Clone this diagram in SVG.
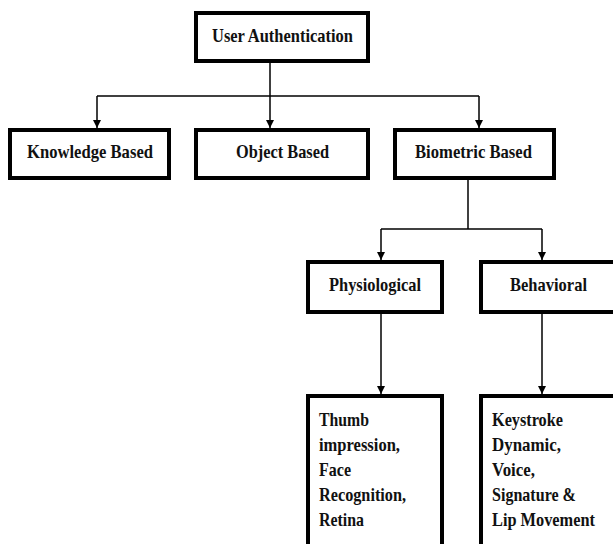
<svg xmlns="http://www.w3.org/2000/svg" width="613" height="544" viewBox="0 0 613 544">
<style>
.box{fill:#fff;stroke:#000;stroke-width:4}
.t{font-family:"Liberation Serif","Times New Roman",serif;font-weight:bold;font-size:19px;fill:#111}
.c{fill:none;stroke:#000;stroke-width:1.5}
</style>
<defs>
<marker id="ah" markerUnits="userSpaceOnUse" markerWidth="8" markerHeight="10" refX="8" refY="4" orient="auto" viewBox="0 0 8 8">
<path d="M0,0 L8,4 L0,8 Z" fill="#000"/>
</marker>
</defs>
<rect width="613" height="544" fill="#fff"/>
<g id="connectors">
<path class="c" d="M270,63 V96"/>
<path class="c" d="M97,96 H479"/>
<path class="c" d="M97,96 V128" marker-end="url(#ah)"/>
<path class="c" d="M270,96 V128" marker-end="url(#ah)"/>
<path class="c" d="M479,96 V128" marker-end="url(#ah)"/>
<path class="c" d="M468,180 V229"/>
<path class="c" d="M381,229 H542"/>
<path class="c" d="M381,229 V260" marker-end="url(#ah)"/>
<path class="c" d="M542,229 V260" marker-end="url(#ah)"/>
<path class="c" d="M381,314 V394" marker-end="url(#ah)"/>
<path class="c" d="M542,314 V394" marker-end="url(#ah)"/>
</g>
<g id="user-auth">
<rect class="box" x="196" y="13" width="172" height="48"/>
<text class="t" x="212" y="42" textLength="141" lengthAdjust="spacingAndGlyphs">User Authentication</text>
</g>
<g id="knowledge">
<rect class="box" x="10" y="130" width="159" height="48"/>
<text class="t" x="27" y="158" textLength="126" lengthAdjust="spacingAndGlyphs">Knowledge Based</text>
</g>
<g id="object">
<rect class="box" x="196" y="130" width="172" height="48"/>
<text class="t" x="236" y="158" textLength="93" lengthAdjust="spacingAndGlyphs">Object Based</text>
</g>
<g id="biometric">
<rect class="box" x="395" y="130" width="159" height="48"/>
<text class="t" x="415" y="158" textLength="117" lengthAdjust="spacingAndGlyphs">Biometric Based</text>
</g>
<g id="physiological">
<rect class="box" x="308" y="262" width="134" height="50"/>
<text class="t" x="329" y="291" textLength="92" lengthAdjust="spacingAndGlyphs">Physiological</text>
</g>
<g id="behavioral">
<rect class="box" x="481" y="262" width="140" height="50"/>
<text class="t" x="510" y="291" textLength="77" lengthAdjust="spacingAndGlyphs">Behavioral</text>
</g>
<g id="physio-list">
<rect class="box" x="308" y="396" width="134" height="170"/>
<text class="t" x="319" y="426" textLength="50" lengthAdjust="spacingAndGlyphs">Thumb</text>
<text class="t" x="319" y="451" textLength="81" lengthAdjust="spacingAndGlyphs">impression,</text>
<text class="t" x="319" y="476" textLength="32" lengthAdjust="spacingAndGlyphs">Face</text>
<text class="t" x="319" y="501" textLength="87" lengthAdjust="spacingAndGlyphs">Recognition,</text>
<text class="t" x="319" y="526" textLength="45" lengthAdjust="spacingAndGlyphs">Retina</text>
</g>
<g id="behav-list">
<rect class="box" x="481" y="396" width="140" height="170"/>
<text class="t" x="492" y="426" textLength="71" lengthAdjust="spacingAndGlyphs">Keystroke</text>
<text class="t" x="492" y="451" textLength="69" lengthAdjust="spacingAndGlyphs">Dynamic,</text>
<text class="t" x="492" y="476" textLength="43" lengthAdjust="spacingAndGlyphs">Voice,</text>
<text class="t" x="492" y="501" textLength="84" lengthAdjust="spacingAndGlyphs">Signature &amp;</text>
<text class="t" x="492" y="526" textLength="103" lengthAdjust="spacingAndGlyphs">Lip Movement</text>
</g>
</svg>
